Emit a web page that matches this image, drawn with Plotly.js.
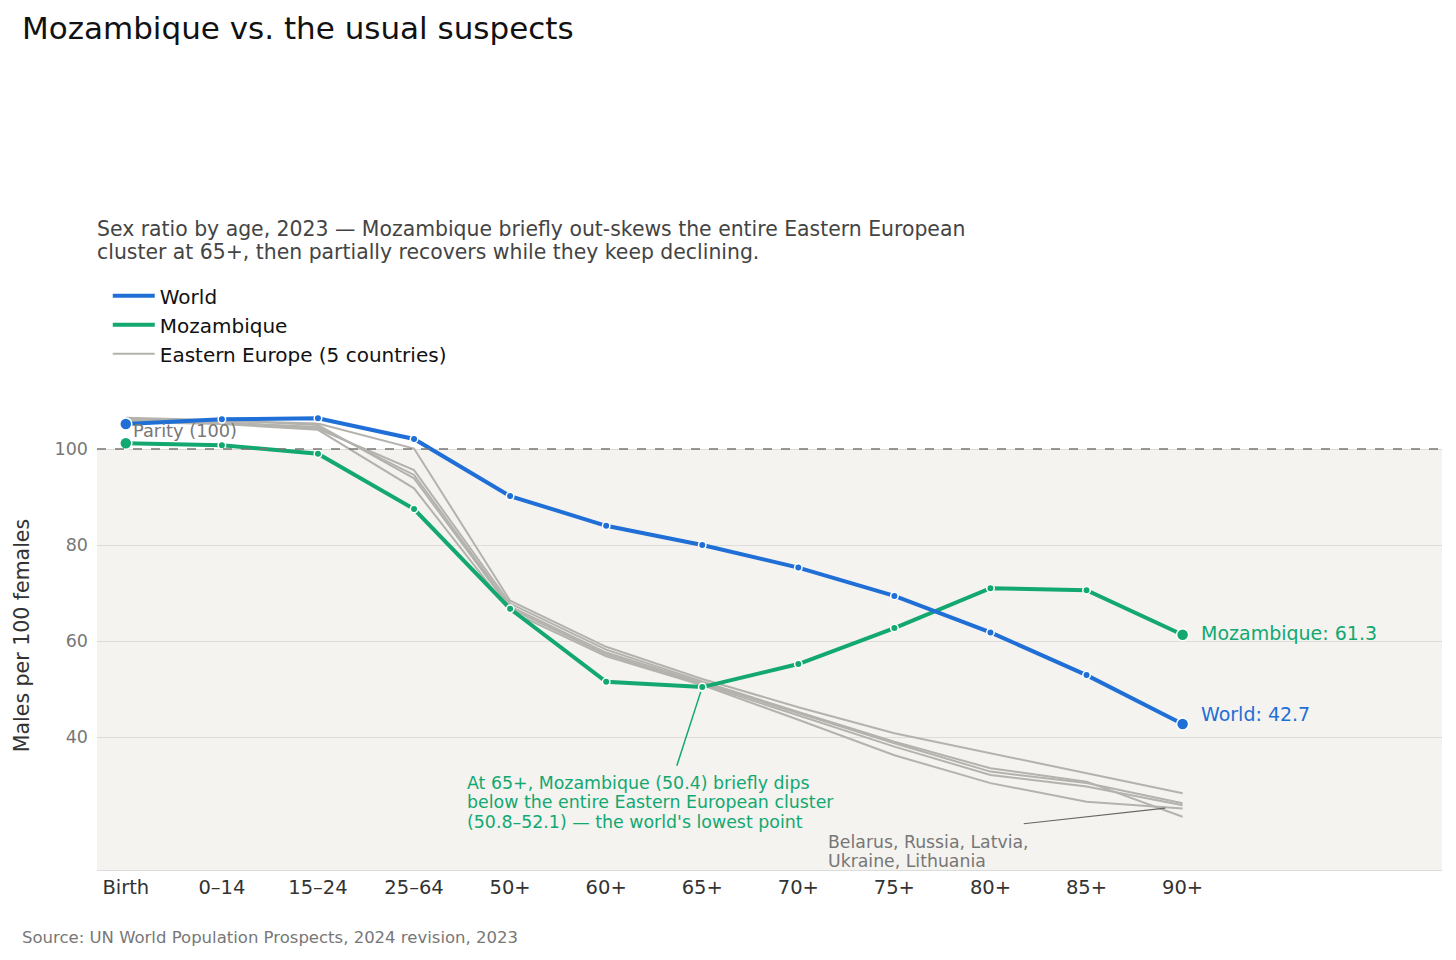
<!DOCTYPE html>
<html>
<head>
<meta charset="utf-8">
<script src="https://cdn.plot.ly/plotly-3.0.1.min.js"></script>
<style>
  body { margin: 0; background: #fff; }
  #chart { width: 1456px; height: 960px; }
</style>
</head>
<body>
<div id="chart"></div>
<script>
// age groups on the x axis
const ages = ["Birth", "0–14", "15–24", "25–64", "50+", "60+", "65+", "70+", "75+", "80+", "85+", "90+"];

// males per 100 females
const world = [105.2, 106.2, 106.4, 102.1, 90.2, 84.0, 80.0, 75.3, 69.4, 61.8, 52.9, 42.7];
const mozambique = [101.2, 100.8, 99.0, 87.5, 66.7, 51.5, 50.4, 55.2, 62.7, 71.0, 70.6, 61.3];

// Eastern European cluster
const belarus = [106.3, 105.9, 105.3, 100.1, 68.4, 58.8, 52.1, 46.2, 40.8, 36.6, 32.4, 28.3];
const russia = [106.0, 105.6, 104.2, 95.6, 67.8, 58.2, 51.6, 45.2, 39.0, 33.5, 30.7, 23.4];
const latvia = [105.8, 105.5, 104.6, 94.6, 67.2, 57.6, 51.3, 45.0, 38.7, 32.8, 30.4, 26.2];
const ukraine = [106.5, 106.0, 105.0, 93.9, 66.8, 57.2, 51.0, 44.5, 38.0, 32.1, 29.7, 25.8];
const lithuania = [105.6, 105.2, 104.0, 91.8, 66.2, 56.8, 50.8, 43.6, 36.2, 30.4, 26.5, 25.1];

const eeNames = ["Belarus", "Russia", "Latvia", "Ukraine", "Lithuania"];
const eeSeries = [belarus, russia, latvia, ukraine, lithuania];

// text blocks, one entry per line
const subtitleLines = [
  "Sex ratio by age, 2023 — Mozambique briefly out-skews the entire Eastern European",
  "cluster at 65+, then partially recovers while they keep declining.",
];
const dipNoteLines = [
  "At 65+, Mozambique (50.4) briefly dips",
  "below the entire Eastern European cluster",
  "(50.8–52.1) — the world's lowest point",
];
const clusterNoteLines = ["Belarus, Russia, Latvia,", "Ukraine, Lithuania"];

const BLUE = "#1f6fd6";
const GREEN = "#12a870";
const GREY = "#b4b2ad";
const FONT = "DejaVu Sans, Verdana, sans-serif";

const yMin = 12.3;
const yMax = 110;

// bigger dots at both ends
const dotSizes = ages.map((a, i) => (i === 0 || i === ages.length - 1 ? 12 : 7.5));

let data = [];

eeSeries.forEach((s, i) => {
  data.push({
    x: ages,
    y: s,
    type: "scatter",
    mode: "lines",
    name: i === 0 ? "Eastern Europe (5 countries)" : eeNames[i],
    legendgroup: "ee",
    legendrank: 3,
    showlegend: i === 0,
    line: { color: GREY, width: 2 },
    hoverinfo: "skip",
  });
});

const addSeries = (name, values, color, rank) => {
  data.push({
    x: ages,
    y: values,
    type: "scatter",
    mode: "lines",
    name: name,
    legendgroup: name,
    legendrank: rank,
    line: { color: color, width: 4 },
  });
  data.push({
    x: ages,
    y: values,
    type: "scatter",
    mode: "markers",
    name: name,
    legendgroup: name,
    showlegend: false,
    marker: { color: color, opacity: 1, size: dotSizes, line: { color: "#fff", width: 1.5 } },
  });
};

addSeries("Mozambique", mozambique, GREEN, 2);
addSeries("World", world, BLUE, 1);

const last = ages.length - 1;

// one annotation per text line, stacked with a fixed gap in px
const textBlock = (lines, base, gap) =>
  lines.map((t, i) =>
    Object.assign({}, base, {
      text: t,
      yshift: -i * gap,
      showarrow: false,
      xanchor: "left",
      yanchor: "middle",
      align: "left",
      font: Object.assign({}, base.font),
    })
  );

let annotations = [];

annotations = annotations.concat(
  textBlock(subtitleLines, { xref: "paper", yref: "paper", x: -0.0015, y: 1.3667, font: { size: 20.4, color: "#444" } }, 23)
);

annotations = annotations.concat(
  textBlock(dipNoteLines, { x: 3.53, y: 30.5, font: { size: 17.4, color: GREEN } }, 19.5)
);

annotations = annotations.concat(
  textBlock(clusterNoteLines, { x: 7.29, y: 18.2, font: { size: 17.3, color: "#777" } }, 19)
);

annotations.push(
  {
    x: 0.05,
    y: 103.8,
    xanchor: "left",
    yanchor: "middle",
    showarrow: false,
    text: "Parity (100)",
    font: { size: 17.8, color: "#777" },
  },
  {
    x: last + 0.17,
    y: mozambique[last] + 0.3,
    xanchor: "left",
    yanchor: "middle",
    showarrow: false,
    text: "Mozambique: " + mozambique[last].toFixed(1),
    font: { size: 19, color: GREEN },
  },
  {
    x: last + 0.17,
    y: world[last] + 2.2,
    xanchor: "left",
    yanchor: "middle",
    showarrow: false,
    text: "World: " + world[last].toFixed(1),
    font: { size: 19, color: BLUE },
  },
  {
    x: 6,
    y: mozambique[6],
    axref: "x",
    ayref: "y",
    ax: 5.73,
    ay: 33.7,
    text: "",
    showarrow: true,
    arrowhead: 0,
    arrowwidth: 1.5,
    arrowcolor: GREEN,
    standoff: 5,
  },
  {
    x: 10.82,
    y: 25.2,
    axref: "x",
    ayref: "y",
    ax: 9.33,
    ay: 21.9,
    text: "",
    showarrow: true,
    arrowhead: 0,
    arrowwidth: 1.2,
    arrowcolor: "#666",
  },
  {
    xref: "paper",
    yref: "paper",
    x: -0.0572,
    y: -0.143,
    xanchor: "left",
    yanchor: "middle",
    showarrow: false,
    text: "Source: UN World Population Prospects, 2024 revision, 2023",
    font: { size: 16.5, color: "#777" },
  }
);

let layout = {
  width: 1456,
  height: 960,
  paper_bgcolor: "#fff",
  plot_bgcolor: "#fff",
  font: { family: FONT, color: "#333" },
  margin: { l: 97, r: 14, t: 401, b: 90 },
  showlegend: true,
  title: {
    text: "Mozambique vs. the usual suspects",
    font: { size: 31, color: "#111", family: FONT },
    xref: "container",
    yref: "container",
    x: 22 / 1456,
    xanchor: "left",
    y: 1 - 28 / 960,
    yanchor: "middle",
  },
  legend: {
    x: 0.008,
    xanchor: "left",
    y: 1.266,
    yanchor: "top",
    font: { size: 20, color: "#111" },
    bgcolor: "rgba(0,0,0,0)",
    itemwidth: 42,
    tracegroupgap: 5,
    traceorder: "normal",
  },
  xaxis: {
    type: "category",
    range: [-0.3, 13.7],
    showgrid: false,
    zeroline: false,
    showline: true,
    linecolor: "#dddddd",
    linewidth: 1,
    ticks: "",
    tickfont: { size: 19.5, color: "#333" },
    ticklabelstandoff: 0,
    fixedrange: true,
  },
  yaxis: {
    range: [yMin, yMax],
    tickvals: [40, 60, 80, 100],
    showgrid: true,
    gridcolor: "#dedcd8",
    gridwidth: 1,
    zeroline: false,
    showline: false,
    ticks: "",
    tickfont: { size: 17.5, color: "#777" },
    ticklabelstandoff: 8,
    title: { text: "Males per 100 females", font: { size: 20.5, color: "#333" }, standoff: 19 },
    automargin: false,
    fixedrange: true,
  },
  shapes: [
    {
      type: "rect",
      xref: "paper",
      yref: "y",
      x0: 0,
      x1: 1,
      y0: yMin,
      y1: 100,
      fillcolor: "#f4f3f0",
      line: { width: 0 },
      layer: "below",
    },
    {
      type: "line",
      xref: "paper",
      yref: "y",
      x0: 0,
      x1: 1,
      y0: 100,
      y1: 100,
      line: { color: "#777", width: 1.6, dash: "dash" },
      layer: "above",
    },
  ],
  annotations: annotations,
};

var config = { responsive: false, staticPlot: true };

Plotly.newPlot("chart", data, layout, config);
</script>
</body>
</html>
